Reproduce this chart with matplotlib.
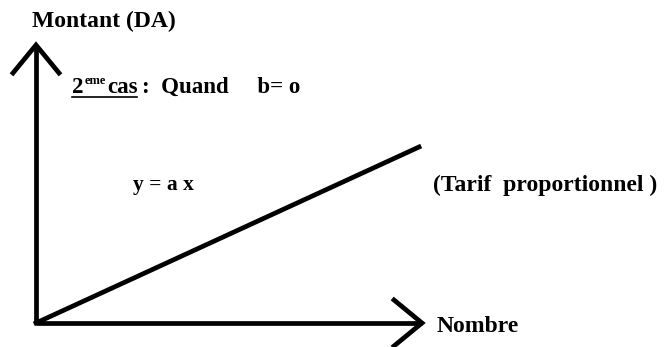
import matplotlib
matplotlib.use("Agg")
import matplotlib.pyplot as plt

# data (schematic: y = a x, origin at 0)
line_x = [0, 383]
line_y = [0, 176]
x_axis_end = 386
y_axis_end = 278

y_label = "Montant (DA)"
x_label = "Nombre"
equation = "y = a x"
note = "(Tarif  proportionnel )"

W, H = 667, 347
ox, oy = 36, 323  # origin pixel position

fig = plt.figure(figsize=(W / 100, H / 100), dpi=100)
ax = fig.add_axes([0, 0, 1, 1])
ax.set_xlim(-ox, W - ox)
ax.set_ylim(-(H - oy), oy)
ax.axis("off")

FONT = "Liberation Serif"
lw = 3.4
FS = 17

# axes
ax.plot([0, 0], [0, y_axis_end], color="black", lw=lw, solid_capstyle="butt")
ax.plot([0, x_axis_end], [0, 0], color="black", lw=lw, solid_capstyle="butt")
# arrowheads (open chevrons)
ax.plot([-23, 0, 23], [y_axis_end - 28, y_axis_end, y_axis_end - 28], color="black", lw=lw,
        solid_joinstyle="miter")
ax.plot([x_axis_end - 28, x_axis_end, x_axis_end - 28], [23, 0, -23], color="black", lw=lw,
        solid_joinstyle="miter")
# line y = a x
ax.plot(line_x, line_y, color="black", lw=lw)

def put(x, y, s, fs=FS, va="center"):
    return ax.text(x - ox, oy - y, s, fontfamily=FONT, fontweight="bold", fontsize=fs,
                   va=va, ha="left")

put(32, 21, y_label)
put(437, 327, x_label)
put(133, 185, equation, fs=15.5)
put(433, 185, note)

# "2eme cas : Quand   b= o"
fig.canvas.draw()
r = fig.canvas.get_renderer()
base = 93
t1 = put(72, base, "2", fs=16.5, va="baseline")
x = 72 + t1.get_window_extent(r).width + 1
t2 = put(x, base - 9, "eme", fs=9, va="baseline")
x += t2.get_window_extent(r).width + 1
t3 = put(x, base, "cas", fs=16.5, va="baseline")
x_end_ul = x + t3.get_window_extent(r).width
put(x_end_ul + 5, base, ":  Quand     b= o", fs=16.5, va="baseline")
ax.plot([72 - ox, x_end_ul - ox], [oy - base - 4, oy - base - 4], color="black", lw=1.2)

fig.savefig("out.png", dpi=100)
